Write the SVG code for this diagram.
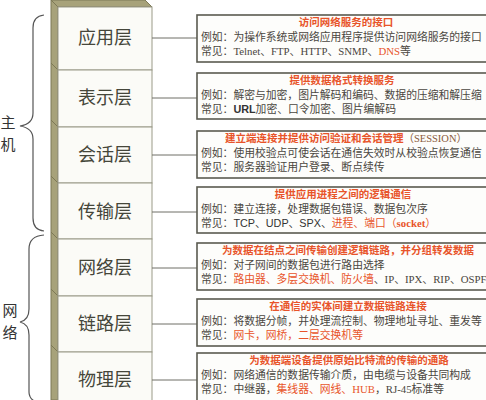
<svg xmlns="http://www.w3.org/2000/svg" width="486" height="400" viewBox="0 0 486 400">
<style>
.lbl{font-family:"Noto Sans CJK SC","Noto Sans",sans-serif;font-size:18px;fill:#45463a;text-anchor:middle}
.side{font-family:"Noto Sans CJK SC","Noto Sans",sans-serif;font-size:15px;fill:#333;text-anchor:middle}
.box{fill:#fdfdfb;stroke:#5a5a50;stroke-width:1.6}
.ttl{font-family:"Liberation Serif","Noto Sans CJK SC",serif;font-size:10.5px;font-weight:bold;fill:#e8542a;text-anchor:middle}
.txt{font-family:"Liberation Serif","Noto Sans CJK SC",serif;font-size:10.8px;fill:#4a4640}
.red{fill:#e8542a}
.sans{font-family:"Liberation Sans","Noto Sans CJK SC",sans-serif;fill:#333}
.conn{stroke:#6e6e66;stroke-width:1;fill:none}
.brace{stroke:#555;stroke-width:1.2;fill:none}
.face{fill:#fbfbf7;stroke:#9a9a88;stroke-width:1}
.olive{fill:#a7a27a;stroke:#7d7956;stroke-width:1}
</style>
<g id="stack">
<polygon class="olive" points="51,0 145,0 152,7 58,7"/>
<polygon class="olive" points="51,0 58,7 58,400 51,400"/>
<line class="olive" x1="51" y1="63" x2="58" y2="70"/>
<line class="olive" x1="51" y1="120" x2="58" y2="127"/>
<line class="olive" x1="51" y1="176" x2="58" y2="183"/>
<line class="olive" x1="51" y1="232" x2="58" y2="239"/>
<line class="olive" x1="51" y1="289" x2="58" y2="296"/>
<line class="olive" x1="51" y1="345" x2="58" y2="352"/>
</g>
<g id="layer-app"><rect class="face" x="58" y="7" width="94" height="63"/><text class="lbl" x="105" y="44">应用层</text></g>
<g id="layer-pres"><rect class="face" x="58" y="70" width="94" height="57"/><text class="lbl" x="105" y="104">表示层</text></g>
<g id="layer-sess"><rect class="face" x="58" y="127" width="94" height="56"/><text class="lbl" x="105" y="161">会话层</text></g>
<g id="layer-trans"><rect class="face" x="58" y="183" width="94" height="56"/><text class="lbl" x="105" y="218">传输层</text></g>
<g id="layer-net"><rect class="face" x="58" y="239" width="94" height="57"/><text class="lbl" x="105" y="274">网络层</text></g>
<g id="layer-link"><rect class="face" x="58" y="296" width="94" height="56"/><text class="lbl" x="105" y="330">链路层</text></g>
<g id="layer-phys"><rect class="face" x="58" y="352" width="94" height="56"/><text class="lbl" x="105" y="386">物理层</text></g>

<g id="brace-host">
<path class="brace" d="M44,15 Q33,16 33,28 L33,113 Q33,124 20,126 Q33,128 33,139 L33,218 Q33,230 44,231"/>
<text class="side" x="8" y="128">主</text>
<text class="side" x="8" y="150">机</text>
</g>
<g id="brace-net">
<path class="brace" d="M44,235 Q29,236 29,249 L29,309 Q29,320 20,322 Q29,324 29,335 L29,392 Q29,402 44,404"/>
<text class="side" x="10" y="316">网</text>
<text class="side" x="10" y="338">络</text>
</g>

<g id="connectors">
<line class="conn" x1="152" y1="38" x2="197" y2="38"/>
<line class="conn" x1="152" y1="98" x2="197" y2="98"/>
<line class="conn" x1="152" y1="155" x2="197" y2="155"/>
<line class="conn" x1="152" y1="212" x2="197" y2="212"/>
<line class="conn" x1="152" y1="268" x2="197" y2="268"/>
<line class="conn" x1="152" y1="324" x2="197" y2="324"/>
<line class="conn" x1="152" y1="380" x2="197" y2="380"/>
</g>

<g id="box-app">
<rect class="box" x="197" y="15" width="300" height="47"/>
<text class="ttl" x="346" y="26">访问网络服务的接口</text>
<text class="txt" x="201" y="41">例如：为操作系统或网络应用程序提供访问网络服务的接口</text>
<text class="txt" x="201" y="55">常见：Telnet、FTP、HTTP、SNMP、<tspan class="red">DNS</tspan>等</text>
</g>
<g id="box-pres">
<rect class="box" x="197" y="73" width="300" height="46"/>
<text class="ttl" x="342" y="84">提供数据格式转换服务</text>
<text class="txt" x="201" y="99">例如：解密与加密，图片解码和编码、数据的压缩和解压缩</text>
<text class="txt" x="201" y="113">常见：<tspan class="sans" font-weight="bold">URL</tspan>加密、口令加密、图片编解码</text>
</g>
<g id="box-sess">
<rect class="box" x="197" y="131" width="300" height="47"/>
<text class="ttl" x="346" y="142">建立端连接并提供访问验证和会话管理<tspan fill="#8a5a3a" font-weight="normal">（SESSION）</tspan></text>
<text class="txt" x="201" y="157">例如：使用校验点可使会话在通信失效时从校验点恢复通信</text>
<text class="txt" x="201" y="171">常见：服务器验证用户登录、断点续传</text>
</g>
<g id="box-trans">
<rect class="box" x="197" y="187" width="300" height="46"/>
<text class="ttl" x="343" y="198">提供应用进程之间的逻辑通信</text>
<text class="txt" x="201" y="213">例如：建立连接，处理数据包错误、数据包次序</text>
<text class="txt" x="201" y="227">常见：<tspan class="sans">TCP、UDP、SPX、</tspan><tspan class="red">进程、端口（<tspan font-weight="bold">socket</tspan>）</tspan></text>
</g>
<g id="box-net">
<rect class="box" x="197" y="243" width="300" height="47"/>
<text class="ttl" x="348" y="254">为数据在结点之间传输创建逻辑链路，并分组转发数据</text>
<text class="txt" x="201" y="269">例如：对子网间的数据包进行路由选择</text>
<text class="txt" x="201" y="283">常见：<tspan class="red">路由器、多层交换机、防火墙</tspan>、IP、IPX、RIP、OSPF</text>
</g>
<g id="box-link">
<rect class="box" x="197" y="299" width="300" height="47"/>
<text class="ttl" x="348" y="310">在通信的实体间建立数据链路连接</text>
<text class="txt" x="201" y="325">例如：将数据分帧，并处理流控制、物理地址寻址、重发等</text>
<text class="txt" x="201" y="339">常见：<tspan class="red">网卡，网桥，二层交换机等</tspan></text>
</g>
<g id="box-phys">
<rect class="box" x="197" y="353" width="300" height="50"/>
<text class="ttl" x="349" y="364">为数据端设备提供原始比特流的传输的通路</text>
<text class="txt" x="201" y="379">例如：网络通信的数据传输介质，由电缆与设备共同构成</text>
<text class="txt" x="201" y="393">常见：中继器，<tspan class="red">集线器、网线、HUB</tspan>，RJ-45标准等</text>
</g>
</svg>
